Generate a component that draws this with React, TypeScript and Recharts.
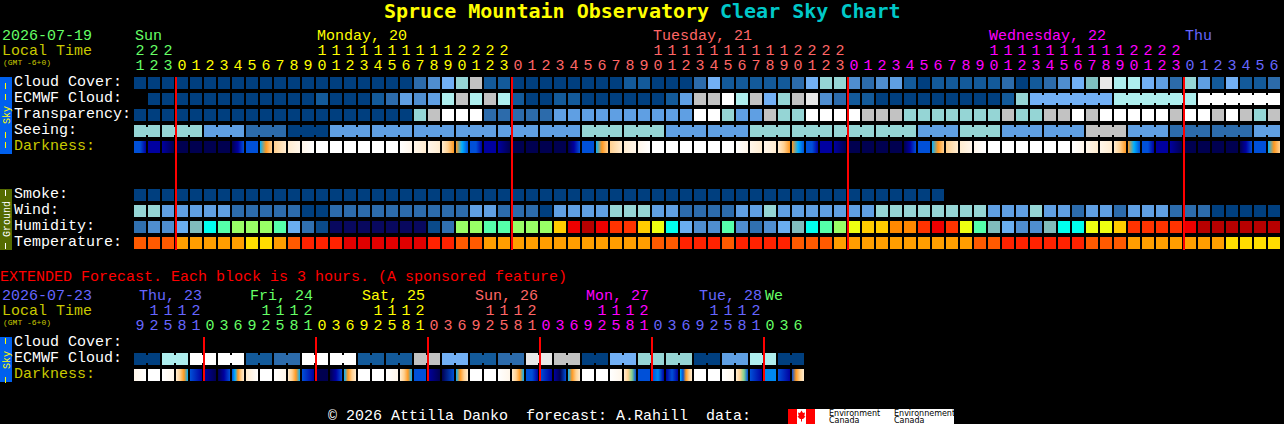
import React from "react";
import { ComposedChart, Scatter, XAxis, YAxis } from "recharts";

const WIDTH = 1284;
const HEIGHT = 424;
const MONO = "'Liberation Mono', monospace";
const TITLE_FONT = "'DejaVu Sans Mono', monospace";

// colour scales, lowest level first
const cloudScale = ["#003f7f", "#135a9a", "#2c6bab", "#4f8ed0", "#5f9fe3", "#72b0f5", "#7fbfbf", "#95d5d5", "#aeeeee", "#c2c2c2", "#e8e8e8", "#ffffff"];
const humidityScale = ["#08085e", "#0a4a8a", "#3070b0", "#4f8ed0", "#6aaef0", "#80bcbc", "#00ffee", "#55ffaa", "#99ff66", "#eeff11", "#ffcc00", "#ff8800", "#ff3300", "#ee0000", "#b80000"];
const tempScale = ["#ffdd00", "#ff9e00", "#ff5a00", "#ff2200", "#e00000"];
const darkScale: Record<string, string> = {
  n: "#000050", m: "#0000a0", b: "#0050d8", a: "#0088f0", c: "#00b0ff", g: "#80d090",
  o: "#ff9820", y: "#ffd090", p: "#ffecd0", q: "#fff6ea", w: "#ffffff",
};

const cloudCover = [0,0,0,0,0,0,0,0,0,0,0,0,0,0,0,0,0,0,0,0,2,3,5,7,9,1,1,0,0,0,0,0,0,0,0,1,1,0,0,0,2,5,1,1,1,1,1,2,5,7,7,3,2,3,4,1,0,1,1,1,1,1,2,0,1,2,3,5,6,10,8,8,5,4,2,7,4,1,5,1,1,2];
const ecmwfCloud = [null,0,0,0,0,0,0,0,0,0,0,0,0,1,0,0,0,1,2,4,3,4,8,9,8,9,8,1,0,0,1,1,0,0,0,0,0,0,1,4,9,9,11,8,9,5,7,9,10,3,2,1,1,0,0,0,0,0,0,0,0,0,1,7,5,5,5,5,5,5,8,8,8,8,8,8,11,11,11,11,11,11];
const transparency = [0,0,0,0,0,0,0,0,0,0,0,0,0,0,0,0,0,0,0,0,7,9,11,11,11,2,2,2,2,2,4,4,4,4,4,4,4,4,4,4,11,11,7,4,4,9,7,7,11,11,11,11,9,9,9,7,7,7,7,7,7,7,9,7,7,9,9,11,9,11,11,11,11,11,9,11,11,9,11,9,7,9];
const seeing = [7,7,7,7,7,4,4,4,2,2,2,0,0,0,4,4,4,4,4,4,4,4,4,4,4,4,4,4,4,4,4,4,7,7,7,7,7,7,4,4,4,4,4,4,7,7,7,7,7,7,7,7,7,7,7,7,4,4,4,7,7,7,4,4,4,4,4,4,9,9,9,4,4,4,2,2,2,2,2,2,4,4];
const smoke = [0,0,0,0,0,0,0,0,0,0,0,0,0,0,0,0,0,0,0,0,0,0,0,0,0,0,0,0,0,0,0,0,0,0,0,0,0,0,0,0,0,0,0,0,0,0,0,0,0,0,0,0,0,0,0,0,0,0];
const wind = [7,7,4,4,4,4,4,2,2,2,2,2,0,0,2,2,2,2,2,2,2,2,2,2,4,4,2,2,2,0,4,4,4,4,7,7,7,4,4,2,2,2,2,4,4,7,4,4,4,4,4,4,4,7,7,7,7,7,7,7,7,4,4,4,7,4,4,2,4,4,2,4,4,4,2,2,2,0,0,0,0,0];
const humidity = [2,3,3,4,5,6,7,8,8,8,7,4,2,1,0,0,0,0,0,0,0,1,2,8,8,7,7,8,8,8,10,13,14,13,12,12,10,9,6,4,3,3,7,3,2,3,4,5,6,7,8,9,10,10,11,11,12,13,12,9,7,5,4,3,3,5,6,6,9,9,10,12,12,12,12,13,14,14,14,14,14,14];
const temperature = [2,2,2,1,1,1,1,1,0,0,1,2,3,3,3,4,4,4,4,4,4,3,3,2,2,1,1,1,1,1,1,1,1,1,1,1,1,2,2,3,3,3,2,3,3,3,3,2,2,2,1,1,1,1,1,1,1,1,1,1,2,2,3,3,3,3,3,3,2,2,2,1,1,1,1,1,1,1,0,0,0,0];
const darkness = [
  "bbm","m","mn","n","n","n","n","nmb","bb","coy","yp","pq","qw","w","w","w","w","w","w","wq","qp","qp","pyo","ocb",
  "bbm","m","mn","n","n","n","n","nmb","bb","coy","yp","pq","qw","w","w","w","w","w","w","wq","qp","qp","pyo","ocb",
  "bbm","m","mn","n","n","n","n","nmb","bb","coy","yp","pq","qw","w","w","w","w","w","w","wq","qp","qp","pyo","ocb",
  "bbm","m","mn","n","n","n","n","nmb","bb","coy",
];

const extEcmwf = [0,0,8,8,11,11,11,11,1,1,2,2,11,11,11,11,1,1,1,1,9,9,5,5,1,1,2,2,10,10,9,9,0,0,5,5,7,7,7,7,0,0,4,4,8,8,0,0];
const extDarkness = [
  "qw","w","wq","pyoc","bm","mn","nmb","bcoyp","pw","w","wq","pyoc","bm","n","nmb","coyp",
  "w","w","wq","pyoc","bb","mn","nb","coyp","w","w","wq","pyoc","bbm","bm","mnb","coyp",
  "w","w","wq","pygb","bb","bam","mbm","cboyp","w","w","wq","pygb","bm","aa","bm","boyp",
];

// runs of cells that are drawn joined together
const seeingBlocks = [2,3,3,3,3,3,3,3,3,3,3,3,3,3,3,3,3,3,3,3,3,3,3,3,3,3,3,2];
const ecmwfBlocks = [64,6,6,6];
const extBlocks = [2,2,2,2,2,2,2,2,2,2,2,2,2,2,2,2,2,2,2,2,2,2,2,2];

const hourOnes = [1,2,3,0,1,2,3,4,5,6,7,8,9,0,1,2,3,4,5,6,7,8,9,0,1,2,3,0,1,2,3,4,5,6,7,8,9,0,1,2,3,4,5,6,7,8,9,0,1,2,3,0,1,2,3,4,5,6,7,8,9,0,1,2,3,4,5,6,7,8,9,0,1,2,3,0,1,2,3,4,5,6];
const hourTens = ["2","2","2","","","","","","","","","","","1","1","1","1","1","1","1","1","1","1","2","2","2","2","","","","","","","","","","","1","1","1","1","1","1","1","1","1","1","2","2","2","2","","","","","","","","","","","1","1","1","1","1","1","1","1","1","1","2","2","2","2","","","","","","",""];
const extOnes = [9,2,5,8,1,0,3,6,9,2,5,8,1,0,3,6,9,2,5,8,1,0,3,6,9,2,5,8,1,0,3,6,9,2,5,8,1,0,3,6,9,2,5,8,1,0,3,6];
const extTens = ["","1","1","1","2","","","","","1","1","1","2","","","","","1","1","1","2","","","","","1","1","1","2","","","","","1","1","1","2","","","","","1","1","1","2","","",""];

const GREEN = "#66ff66";
const YELLOW = "#ffff00";
const SALMON = "#ff6666";
const MAGENTA = "#ff00ff";
const BLUE = "#6666ff";
const OLIVE = "#c8c800";

const mainDays = [
  { text: "Sun", x: 135, fill: GREEN },
  { text: "Monday, 20", x: 317, fill: YELLOW },
  { text: "Tuesday, 21", x: 653, fill: SALMON },
  { text: "Wednesday, 22", x: 989, fill: MAGENTA },
  { text: "Thu", x: 1185, fill: BLUE },
];
const extDays = [
  { text: "Thu, 23", x: 139, fill: BLUE },
  { text: "Fri, 24", x: 250, fill: GREEN },
  { text: "Sat, 25", x: 362, fill: YELLOW },
  { text: "Sun, 26", x: 475, fill: SALMON },
  { text: "Mon, 27", x: 586, fill: MAGENTA },
  { text: "Tue, 28", x: 699, fill: BLUE },
  { text: "We", x: 765, fill: GREEN },
];

const mainDayStarts = [0, 3, 27, 51, 75];
const mainDayFills = [GREEN, YELLOW, SALMON, MAGENTA, BLUE];
const extDayStarts = [0, 5, 13, 21, 29, 37, 45];
const extDayFills = [BLUE, GREEN, YELLOW, SALMON, MAGENTA, BLUE, GREEN];

const midnights = [3, 27, 51, 75];
const extMidnights = [5, 13, 21, 29, 37, 45];

const skyLabels = ["Cloud Cover:", "ECMWF Cloud:", "Transparency:", "Seeing:"];
const groundLabels = ["Smoke:", "Wind:", "Humidity:", "Temperature:"];

// rows are counted in 16px steps from the first chart row
const ROW = { cloud: 0, ecmwf: 1, transp: 2, seeing: 3, dark: 4, smoke: 7, wind: 8, humid: 9, temp: 10, extCloud: 16.25, extEcmwf: 17.25, extDark: 18.25 };

const joinedCols = (blocks: number[]) => {
  const out = new Set<number>();
  let col = 0;
  blocks.forEach((len, i) => {
    if (!(blocks === ecmwfBlocks && i === 0)) for (let k = 0; k < len - 1; k++) out.add(col + k);
    col += len;
  });
  return out;
};

const levelRow = (values: (number | null)[], row: number, scale: string[], blocks?: number[]) => {
  const joins = blocks ? joinedCols(blocks) : new Set<number>();
  return values
    .map((v, col) => ({ col, row, fill: v === null ? "" : scale[v], joined: joins.has(col) }))
    .filter((d) => d.fill !== "");
};

const darkRow = (values: string[], row: number) => values.map((stops, col) => ({ col, row, stops }));

const digitRow = (values: (string | number)[], row: number, starts: number[], fills: string[]) =>
  values
    .map((digit, col) => {
      let day = 0;
      starts.forEach((s, i) => {
        if (col >= s) day = i;
      });
      return { col, row, digit: String(digit), fill: fills[day] };
    })
    .filter((d) => d.digit !== "");

const Cell = (props: any) => {
  const { cx, cy, payload } = props;
  return (
    <g>
      <rect x={cx} y={cy} width={12} height={12} fill={payload.fill} />
      {payload.joined && <rect x={cx + 12} y={cy + 2} width={2} height={8} fill={payload.fill} />}
    </g>
  );
};

const DarkCell = (props: any) => {
  const { cx, cy, payload } = props;
  const stops: string[] = payload.stops.split("");
  if (stops.length === 1) return <rect x={cx} y={cy} width={12} height={12} fill={darkScale[stops[0]]} />;
  const id = `dk-${payload.row}-${payload.col}`.replace(".", "_");
  return (
    <g>
      <defs>
        <linearGradient id={id} x1="0" x2="1" y1="0" y2="0">
          {stops.map((s, i) => (
            <stop key={i} offset={i / (stops.length - 1)} stopColor={darkScale[s]} />
          ))}
        </linearGradient>
      </defs>
      <rect x={cx} y={cy} width={12} height={12} fill={`url(#${id})`} />
    </g>
  );
};

const Digit = (props: any) => {
  const { cx, cy, payload } = props;
  return (
    <text x={cx + 6} y={cy} textAnchor="middle" fontFamily={MONO} fontSize={15} fill={payload.fill}>
      {payload.digit}
    </text>
  );
};

// midnight marker, drawn as a series so that it lies over the cells
const MidnightMain = (props: any) => <rect x={props.cx - 1} y={props.cy} width={2} height={173} fill="#ff0000" />;
const MidnightExt = (props: any) => <rect x={props.cx - 1} y={props.cy} width={2} height={44} fill="#ff0000" />;

const label = (text: string, x: number, y: number, fill: string, size = 15) => (
  <text key={`${text}-${x}-${y}`} x={x} y={y} fontFamily={MONO} fontSize={size} fill={fill} xmlSpace="preserve">
    {text}
  </text>
);

const title = (text: string, x: number, fill: string) => (
  <text x={x} y={18} fontFamily={TITLE_FONT} fontSize={20} fontWeight="bold" fill={fill}>
    {text}
  </text>
);

const SideBar = ({ y, h, fill, text, color, mid, dashes }: any) => (
  <g>
    <rect x={0} y={y} width={12} height={h} fill={fill} />
    {dashes.map((d: number) => (
      <rect key={d} x={5} y={d} width={1} height={6} fill={color} />
    ))}
    <text transform={`translate(9.5 ${mid}) rotate(-90)`} textAnchor="middle" fontFamily={MONO} fontSize={10} fill={color}>
      {text}
    </text>
  </g>
);

export default function App() {
  document.body.style.background = "#000";
  return (
    <div style={{ position: "fixed", left: 0, top: 0, width: WIDTH, height: HEIGHT, background: "#000" }}>
      <ComposedChart width={WIDTH} height={HEIGHT} margin={{ top: 0, right: 0, bottom: 0, left: 0 }}>
        <XAxis type="number" dataKey="col" hide domain={[-134 / 14, 1150 / 14]} allowDataOverflow />
        <YAxis type="number" dataKey="row" hide reversed domain={[-77 / 16, 347 / 16]} allowDataOverflow width={0} />

        <Scatter data={levelRow(cloudCover, ROW.cloud, cloudScale)} shape={Cell} isAnimationActive={false} />
        <Scatter data={levelRow(ecmwfCloud, ROW.ecmwf, cloudScale, ecmwfBlocks)} shape={Cell} isAnimationActive={false} />
        <Scatter data={levelRow(transparency, ROW.transp, cloudScale)} shape={Cell} isAnimationActive={false} />
        <Scatter data={levelRow(seeing, ROW.seeing, cloudScale, seeingBlocks)} shape={Cell} isAnimationActive={false} />
        <Scatter data={darkRow(darkness, ROW.dark)} shape={DarkCell} isAnimationActive={false} />
        <Scatter data={levelRow(smoke, ROW.smoke, cloudScale)} shape={Cell} isAnimationActive={false} />
        <Scatter data={levelRow(wind, ROW.wind, cloudScale)} shape={Cell} isAnimationActive={false} />
        <Scatter data={levelRow(humidity, ROW.humid, humidityScale)} shape={Cell} isAnimationActive={false} />
        <Scatter data={levelRow(temperature, ROW.temp, tempScale)} shape={Cell} isAnimationActive={false} />
        <Scatter data={levelRow(extEcmwf, ROW.extEcmwf, cloudScale, extBlocks)} shape={Cell} isAnimationActive={false} />
        <Scatter data={darkRow(extDarkness, ROW.extDark)} shape={DarkCell} isAnimationActive={false} />

        <Scatter data={digitRow(hourTens, -1.375, mainDayStarts, mainDayFills)} shape={Digit} isAnimationActive={false} />
        <Scatter data={digitRow(hourOnes, -0.4375, mainDayStarts, mainDayFills)} shape={Digit} isAnimationActive={false} />
        <Scatter data={digitRow(extTens, 14.875, extDayStarts, extDayFills)} shape={Digit} isAnimationActive={false} />
        <Scatter data={digitRow(extOnes, 15.8125, extDayStarts, extDayFills)} shape={Digit} isAnimationActive={false} />

        <Scatter data={midnights.map((col) => ({ col, row: ROW.cloud }))} shape={MidnightMain} isAnimationActive={false} />
        <Scatter data={extMidnights.map((col) => ({ col, row: ROW.extCloud }))} shape={MidnightExt} isAnimationActive={false} />

        {title("Spruce Mountain Observatory", 384, YELLOW)}
        {title("Clear Sky Chart", 720, "#00c8c8")}

        {label("2026-07-19", 2, 40, GREEN)}
        {label("Local Time", 2, 55, OLIVE)}
        {label("(GMT -6+0)", 3, 65, OLIVE, 8)}
        {mainDays.map((d) => label(d.text, d.x, 40, d.fill))}

        {skyLabels.map((t, i) => label(t, 14, 86 + i * 16, "#ffffff"))}
        {label("Darkness:", 14, 150, OLIVE)}
        {groundLabels.map((t, i) => label(t, 14, 198 + i * 16, "#ffffff"))}

        {label("EXTENDED Forecast. Each block is 3 hours. (A sponsored feature)", 0, 281, "#ff0000")}
        {label("2026-07-23", 2, 300, BLUE)}
        {label("Local Time", 2, 315, OLIVE)}
        {label("(GMT -6+0)", 3, 325, OLIVE, 8)}
        {extDays.map((d) => label(d.text, d.x, 300, d.fill))}
        {label("Cloud Cover:", 14, 346, "#ffffff")}
        {label("ECMWF Cloud:", 14, 362, "#ffffff")}
        {label("Darkness:", 14, 378, OLIVE)}

        <SideBar y={77} h={77} fill="#0060ee" color={YELLOW} text="Sky" mid={115} dashes={[83, 94, 132, 142]} />
        <SideBar y={189} h={61} fill="#556b00" color="#ffffff" text="Ground" mid={219} dashes={[190, 243]} />
        <SideBar y={337} h={45} fill="#0060ee" color={YELLOW} text="Sky" mid={360} dashes={[338, 377]} />

        {label("© 2026 Attilla Danko  forecast: A.Rahill  data:", 328, 420, "#ffffff")}
        <rect x={788} y={409} width={166} height={15} fill="#ffffff" />
        <rect x={788} y={409} width={9} height={15} fill="#ff0000" />
        <rect x={806} y={409} width={9} height={15} fill="#ff0000" />
        <path d="M801.5 410.5 L803 413 L805 412.5 L804.3 416 L805.5 416.5 L803 419 L802 419 L802 421.5 L801 421.5 L801 419 L800 419 L797.5 416.5 L798.7 416 L798 412.5 L800 413 Z" fill="#ff0000" />
        <text x={829} y={416} fontFamily="'DejaVu Sans', sans-serif" fontSize={8} fill="#000">Environment</text>
        <text x={829} y={423} fontFamily="'DejaVu Sans', sans-serif" fontSize={8} fill="#000">Canada</text>
        <text x={894} y={416} fontFamily="'DejaVu Sans', sans-serif" fontSize={8} fill="#000">Environnement</text>
        <text x={894} y={423} fontFamily="'DejaVu Sans', sans-serif" fontSize={8} fill="#000">Canada</text>
      </ComposedChart>
    </div>
  );
}
